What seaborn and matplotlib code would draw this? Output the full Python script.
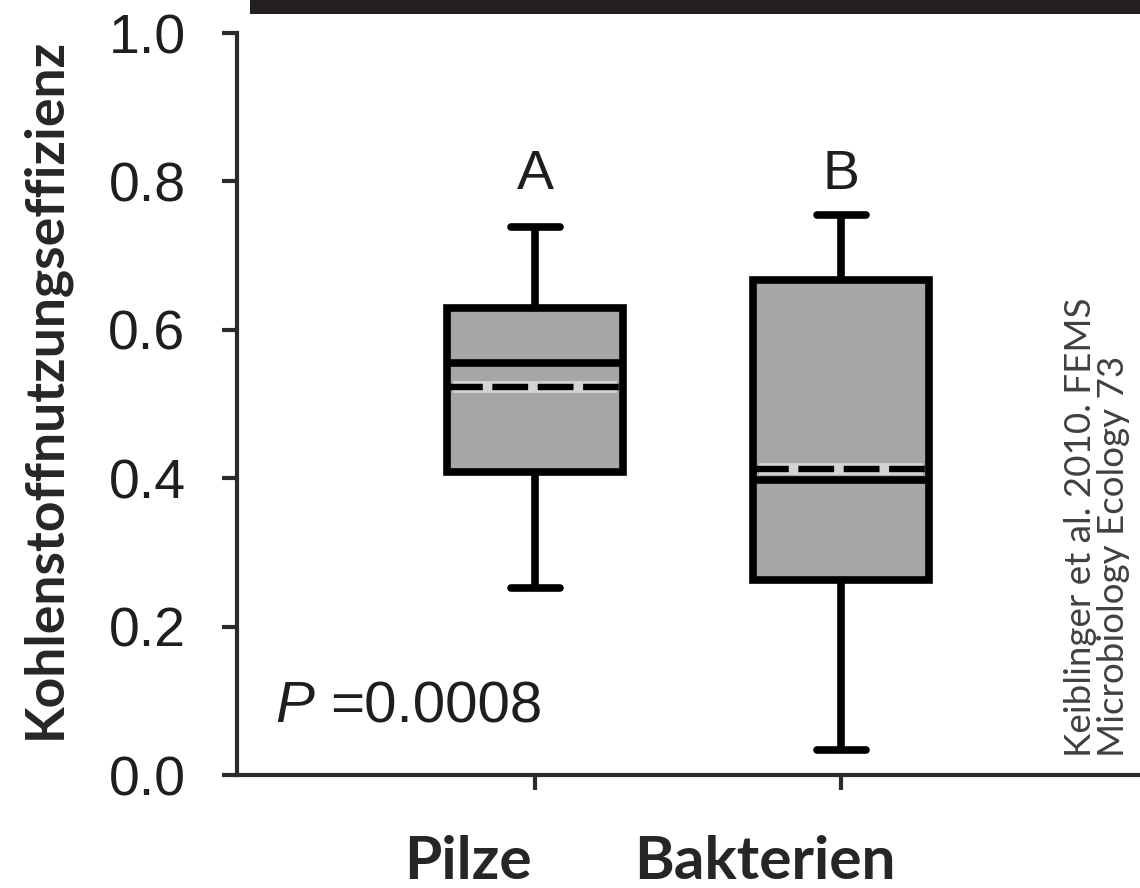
import numpy as np
import pandas as pd
import matplotlib
matplotlib.use("Agg")
import matplotlib.pyplot as plt
from matplotlib.patches import Rectangle
import seaborn as sns

# Carbon use efficiency per organism group (nine observations each)
groups = ["Pilze", "Bakterien"]
pilze_cue = [0.252, 0.330, 0.408, 0.470, 0.555, 0.590, 0.629, 0.734, 0.739]
bakterien_cue = [0.034, 0.150, 0.263, 0.330, 0.398, 0.420, 0.667, 0.691, 0.755]
group_letters = ["A", "B"]
y_ticks = [0.0, 0.2, 0.4, 0.6, 0.8, 1.0]
p_text = "=0.0008"

df = pd.DataFrame({
    "Gruppe": ["Pilze"] * len(pilze_cue) + ["Bakterien"] * len(bakterien_cue),
    "CUE": pilze_cue + bakterien_cue,
})

sns.set_theme(style="ticks")
plt.rcParams["font.family"] = ["Liberation Sans", "DejaVu Sans"]

W, H = 1140, 888
fig = plt.figure(figsize=(W / 100, H / 100), dpi=100)

def fx(px):
    return px / W

def fy(py):
    return 1 - py / H

ax = fig.add_axes([fx(237), fy(775), fx(1140) - fx(237), fy(33) - fy(775)])

box_width = 0.575
sns.boxplot(
    data=df, x="Gruppe", y="CUE", order=groups, ax=ax,
    color="#a6a6a6", saturation=1, linecolor="black", linewidth=5.5,
    width=box_width, whis=(0, 100), showfliers=False,
    showmeans=True, meanline=True,
    meanprops=dict(color="black", linestyle="--", linewidth=5),
    capwidths=0.16,
)

# dashed mean lines: long dashes on a pale underlay
means = [np.mean(pilze_cue), np.mean(bakterien_cue)]
for ln in ax.lines:
    if ln.get_linestyle() == "--":
        ln.set_linewidth(4.6)
        ln.set_linestyle((0, (5.6, 1.5)))
        ln.set_zorder(5)
inner = box_width / 2 - 0.02
ax.hlines(means, [i - inner for i in range(2)], [i + inner for i in range(2)],
          colors="#d4d4d4", linewidth=8.5, zorder=4)

ax.set_xlim(-0.974, 1.977)
ax.set_ylim(0, 1.0)
ax.set_yticks(y_ticks)
ax.set_yticklabels([f"{v:.1f}" for v in y_ticks])
ax.set_xticks([0, 1])
ax.set_xticklabels([])
ax.set_xlabel("")
ax.set_ylabel("")

for side in ["top", "right"]:
    ax.spines[side].set_visible(False)
for side in ["left", "bottom"]:
    ax.spines[side].set_linewidth(3.0)
    ax.spines[side].set_color("#2b2b2b")

ax.tick_params(axis="y", direction="out", length=11, width=3.0, color="#2b2b2b",
               labelsize=40, labelcolor="#1e1e1e", pad=26)
ax.tick_params(axis="x", direction="out", length=11, width=3.0, color="#2b2b2b")

# group letters above the boxes
for i, letter in enumerate(group_letters):
    ax.text(i, 0.79, letter, ha="center", va="baseline", fontsize=40, color="#1e1e1e")

# significance annotation
ax.text(-0.85, 0.071, "P", ha="left", va="baseline", fontsize=42,
        style="italic", color="#1e1e1e")
ax.text(-0.670, 0.071, p_text, ha="left", va="baseline", fontsize=42, color="#1e1e1e")

# category labels and axis title
label_font = ["Lato", "DejaVu Sans"]
fig.text(fx(468), fy(879), groups[0], ha="center", va="baseline",
         fontsize=43.5, fontweight="bold", family=label_font)
fig.text(fx(765), fy(879), groups[1], ha="center", va="baseline",
         fontsize=43.5, fontweight="bold", family=label_font)
fig.text(fx(45), fy(388), "Kohlenstoffnutzungseffizienz", rotation=90,
         ha="center", va="center", fontsize=38.5, fontweight="bold", family=label_font)

# source note
fig.text(fx(1097), fy(757), "Keiblinger et al. 2010. FEMS\nMicrobiology Ecology 73",
         rotation=90, ha="center", va="bottom", multialignment="left",
         fontsize=26.5, color="#404040", family=label_font, linespacing=1.0)

# dark banner along the top edge
fig.patches.append(Rectangle((fx(250), fy(14)), 1 - fx(250), fy(0) - fy(14),
                             transform=fig.transFigure, facecolor="#231f22",
                             edgecolor="none", zorder=10))

fig.savefig("out.png", dpi=100, facecolor="white")
